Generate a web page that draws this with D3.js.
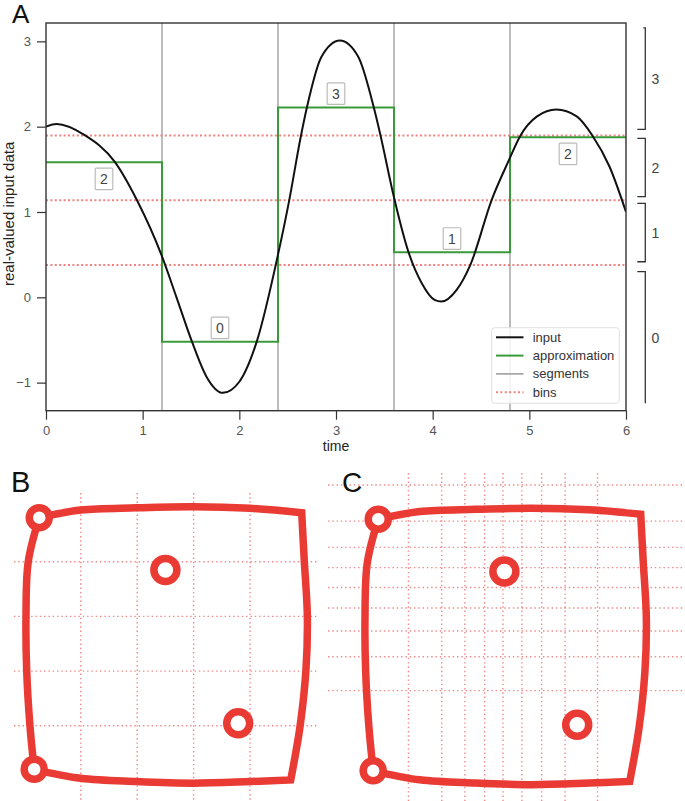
<!DOCTYPE html>
<html><head><meta charset="utf-8">
<script src="https://cdn.jsdelivr.net/npm/d3@7"></script>
<style>
body{margin:0;background:#fff}
svg{display:block;font-family:"Liberation Sans",Arial,Helvetica,sans-serif}
</style>
</head><body>
<svg id="chart" width="685" height="801"></svg>
<script>
// ---------- Panel A data ----------
const inputTime  = [0, 0.11, 0.4, 0.71, 0.94, 1.2, 1.35, 1.51, 1.66, 1.83, 2.0, 2.18, 2.4, 2.52, 2.63, 2.7, 2.85, 3.04, 3.23, 3.39, 3.46, 3.59, 3.75, 3.89, 4.02, 4.09, 4.25, 4.39, 4.61, 4.79, 4.9, 5.08, 5.28, 5.49, 5.65, 5.83, 6.0];
const inputValue = [2.0, 2.03, 1.9, 1.59, 1.14, 0.48, 0.0, -0.52, -0.93, -1.12, -0.99, -0.52, 0.5, 1.16, 1.85, 2.23, 2.82, 3.01, 2.82, 2.23, 1.9, 1.22, 0.53, 0.16, -0.03, -0.05, 0.09, 0.38, 1.14, 1.61, 1.88, 2.12, 2.2, 2.12, 1.9, 1.53, 1.0];
const segmentEdges = [0, 1.2, 2.4, 3.6, 4.8, 6];
const approxValue  = [1.582, -0.52, 2.226, 0.527, 1.875];
const approxSymbol = ["2", "0", "3", "1", "2"];
const labelSide    = [1, -1, -1, -1, 1];
const binEdges     = [0.379, 1.137, 1.896];
const bracketSymbol = ["0", "1", "2", "3"];
const bracketLow    = [-1.242, 0.417, 1.179, 1.969];
const bracketHigh   = [0.300, 1.102, 1.863, 3.159];
const xTicks = [0, 1, 2, 3, 4, 5, 6];
const yTicks = [-1, 0, 1, 2, 3];
const legendLabels = ["input", "approximation", "segments", "bins"];

// ---------- Panels B / C data (shape in unit coordinates) ----------
const outlineTop    = [[0.53,9.61],[2,9.89],[3.98,9.97],[5.99,10.01],[8,9.95],[9.83,9.79]];
const outlineRight  = [[9.83,9.79],[9.92,8.06],[10.03,5.99],[9.98,4.04],[9.77,1.97],[9.44,0.02]];
const outlineBottom = [[9.44,0.02],[8,-0.04],[5.99,-0.1],[3.98,-0.04],[2,0.08],[0.35,0.41]];
const outlineLeft   = [[0.35,0.41],[0.2,2.0],[0.085,4.01],[0.06,6.01],[0.14,8.0],[0.53,9.61]];
const markerU = [0.53, 5.0, 7.58, 0.35];
const markerV = [9.61, 7.7, 2.09, 0.41];
const markerKind = ["corner", "inner", "inner", "corner"];
const gridBU = [2, 4, 6, 8];
const gridBV = [2, 4, 6, 8];
const gridCU = [1.6, 2.78, 3.6, 4.3, 4.95, 5.62, 6.32, 7.15, 8.3];
const gridCV = [10.86, 9.54, 8.58, 7.84, 7.11, 6.36, 5.52, 4.58, 3.34];

const svg = d3.select("#chart");

// ================= Panel A =================
const L = 46, R = 626, T = 23, B = 410.7;
const x = d3.scaleLinear().domain([0, 6]).range([L, R]);
const y = d3.scaleLinear().domain([-1.329, 3.215]).range([B, T]);
const A = svg.append("g");

A.append("clipPath").attr("id", "clipA").append("rect")
  .attr("x", L).attr("y", T).attr("width", R - L).attr("height", B - T);
const plot = A.append("g").attr("clip-path", "url(#clipA)");

// bins
plot.selectAll("line.bin").data(binEdges).join("line").attr("class", "bin")
  .attr("x1", L).attr("x2", R).attr("y1", d => y(d)).attr("y2", d => y(d))
  .attr("stroke", "#f36b6b").attr("stroke-width", 2).attr("stroke-dasharray", "2,2.4")
  .attr("opacity", 0.85);

// segments
plot.selectAll("line.seg").data(segmentEdges.slice(1, -1)).join("line").attr("class", "seg")
  .attr("x1", d => x(d)).attr("x2", d => x(d)).attr("y1", T).attr("y2", B)
  .attr("stroke", "#999").attr("stroke-width", 1.3);

// approximation (step)
const stepPts = approxValue.map((v, i) => [segmentEdges[i], v]).concat([[segmentEdges[5], approxValue[4]]]);
plot.append("path").datum(stepPts)
  .attr("d", d3.line().x(d => x(d[0])).y(d => y(d[1])).curve(d3.curveStepAfter))
  .attr("fill", "none").attr("stroke", "#3a9a3a").attr("stroke-width", 2);

// input
const inputPts = inputTime.map((t, i) => [t, inputValue[i]]);
plot.append("path").datum(inputPts)
  .attr("d", d3.line().x(d => x(d[0])).y(d => y(d[1])).curve(d3.curveMonotoneX))
  .attr("fill", "none").attr("stroke", "#111").attr("stroke-width", 2);

// symbol labels
approxValue.forEach((v, i) => {
  const cx = x((segmentEdges[i] + segmentEdges[i + 1]) / 2);
  const cy = y(v) + (labelSide[i] > 0 ? 16.5 : -13.8);
  const g = A.append("g").attr("transform", `translate(${cx},${cy})`);
  g.append("rect").attr("x", -8.8).attr("y", -10.8).attr("width", 17.6).attr("height", 21.6)
    .attr("fill", "#fff").attr("stroke", "#bbb").attr("stroke-width", 1.2).attr("rx", 1);
  g.append("text").attr("text-anchor", "middle").attr("dy", "0.36em")
    .attr("font-size", 14).attr("fill", "#444").text(approxSymbol[i]);
});

// frame
A.append("rect").attr("x", L).attr("y", T).attr("width", R - L).attr("height", B - T)
  .attr("fill", "none").attr("stroke", "#333").attr("stroke-width", 1.4);

// axes
const ax = A.append("g").attr("transform", `translate(0,${B})`)
  .call(d3.axisBottom(x).tickValues(xTicks).tickSize(9).tickPadding(6).tickFormat(d3.format("d")));
const ay = A.append("g").attr("transform", `translate(${L},0)`)
  .call(d3.axisLeft(y).tickValues(yTicks).tickSize(9).tickPadding(6).tickFormat(d3.format("d")));
[ax, ay].forEach(g => {
  g.select(".domain").remove();
  g.selectAll(".tick line").attr("stroke", "#333").attr("stroke-width", 1.2);
  g.selectAll(".tick text").attr("fill", "#555").attr("font-size", 13)
    .attr("font-family", "'Liberation Sans',Arial,sans-serif");
});

A.append("text").attr("x", (L + R) / 2).attr("y", 451).attr("text-anchor", "middle")
  .attr("font-size", 14).attr("fill", "#222").text("time");
A.append("text").attr("transform", `translate(14,${(T + B) / 2 - 3}) rotate(-90)`)
  .attr("text-anchor", "middle").attr("font-size", 15).attr("fill", "#222")
  .text("real-valued input data");
A.append("text").attr("x", 12).attr("y", 23).attr("font-size", 26).attr("fill", "#111").text("A");

// legend
const lg = A.append("g");
lg.append("rect").attr("x", 491.7).attr("y", 327.7).attr("width", 127.6).attr("height", 75.6)
  .attr("rx", 3).attr("fill", "#fff").attr("fill-opacity", 0.85).attr("stroke", "#e0e0e0");
const legStyle = [
  {c: "#111", w: 2, dash: null, o: 1},
  {c: "#3a9a3a", w: 2, dash: null, o: 1},
  {c: "#999", w: 1.5, dash: null, o: 1},
  {c: "#f36b6b", w: 2, dash: "2,2.4", o: 0.85}
];
legendLabels.forEach((lab, i) => {
  const yy = 337.3 + i * 18.3;
  const s = legStyle[i];
  lg.append("line").attr("x1", 496).attr("x2", 523.5).attr("y1", yy).attr("y2", yy)
    .attr("stroke", s.c).attr("stroke-width", s.w).attr("stroke-dasharray", s.dash).attr("opacity", s.o);
  lg.append("text").attr("x", 532.7).attr("y", yy).attr("dy", "0.35em")
    .attr("font-size", 13).attr("fill", "#333").text(lab);
});

// brackets
const bx = 645.3;
bracketSymbol.forEach((sym, i) => {
  const yt = y(bracketHigh[i]), yb = y(bracketLow[i]);
  const topStub = i === 3 ? 2 : 8, botStub = i === 0 ? 0 : 8;
  A.append("path")
    .attr("d", `M${bx - topStub},${yt}H${bx}V${yb}H${bx - botStub}`)
    .attr("fill", "none").attr("stroke", "#333").attr("stroke-width", 1.3);
  A.append("text").attr("x", bx + 10).attr("y", (yt + yb) / 2).attr("dy", "0.36em")
    .attr("text-anchor", "middle").attr("font-size", 14).attr("fill", "#444").text(sym);
});

// ================= Panels B & C =================
function drawShapePanel(g, sx, sy, gridU, gridV, vExt, hExt) {
  const dotted = l => l.attr("stroke", "#f07474").attr("stroke-width", 1.4)
    .attr("stroke-dasharray", "1.4,2.9").attr("opacity", 0.85);
  g.selectAll("line.gv").data(gridU).join("line").attr("class", "gv")
    .attr("x1", d => sx(d)).attr("x2", d => sx(d)).attr("y1", vExt[0]).attr("y2", vExt[1]).call(dotted);
  g.selectAll("line.gh").data(gridV).join("line").attr("class", "gh")
    .attr("y1", d => sy(d)).attr("y2", d => sy(d)).attr("x1", hExt[0]).attr("x2", hExt[1]).call(dotted);

  const side = pts => d3.line().x(d => sx(d[0])).y(d => sy(d[1]))
    .curve(d3.curveCatmullRom.alpha(0.5))(pts);
  const parts = [outlineTop, outlineRight, outlineBottom, outlineLeft].map((s, i) => {
    const p = side(s);
    return i === 0 ? p : p.slice(p.indexOf("C"));
  });
  g.append("path").attr("d", parts.join("") + "Z")
    .attr("fill", "none").attr("stroke", "#ea3a34").attr("stroke-width", 7.5)
    .attr("stroke-linejoin", "miter").attr("stroke-miterlimit", 10);

  markerU.forEach((u, i) => {
    g.append("circle").attr("cx", sx(u)).attr("cy", sy(markerV[i]))
      .attr("r", markerKind[i] === "corner" ? 10 : 11.5)
      .attr("fill", "#fff").attr("stroke", "#ea3a34").attr("stroke-width", 7.5);
  });
}

const sxB = d3.scaleLinear().domain([0, 10]).range([24.3, 306.5]);
const syB = d3.scaleLinear().domain([0, 10]).range([780.5, 507]);
const gB = svg.append("g");
drawShapePanel(gB, sxB, syB, gridBU, gridBV, [493, 801], [14, 318]);
gB.append("text").attr("x", 11).attr("y", 491.5).attr("font-size", 29).attr("fill", "#111").text("B");

const sxC = d3.scaleLinear().domain([0, 10]).range([363.3, 645.5]);
const syC = d3.scaleLinear().domain([0, 10]).range([782, 508.5]);
const gC = svg.append("g");
drawShapePanel(gC, sxC, syC, gridCU, gridCV, [473, 801], [328, 685]);
gC.append("text").attr("x", 342).attr("y", 492).attr("font-size", 28).attr("fill", "#111").text("C");
</script>
</body></html>
